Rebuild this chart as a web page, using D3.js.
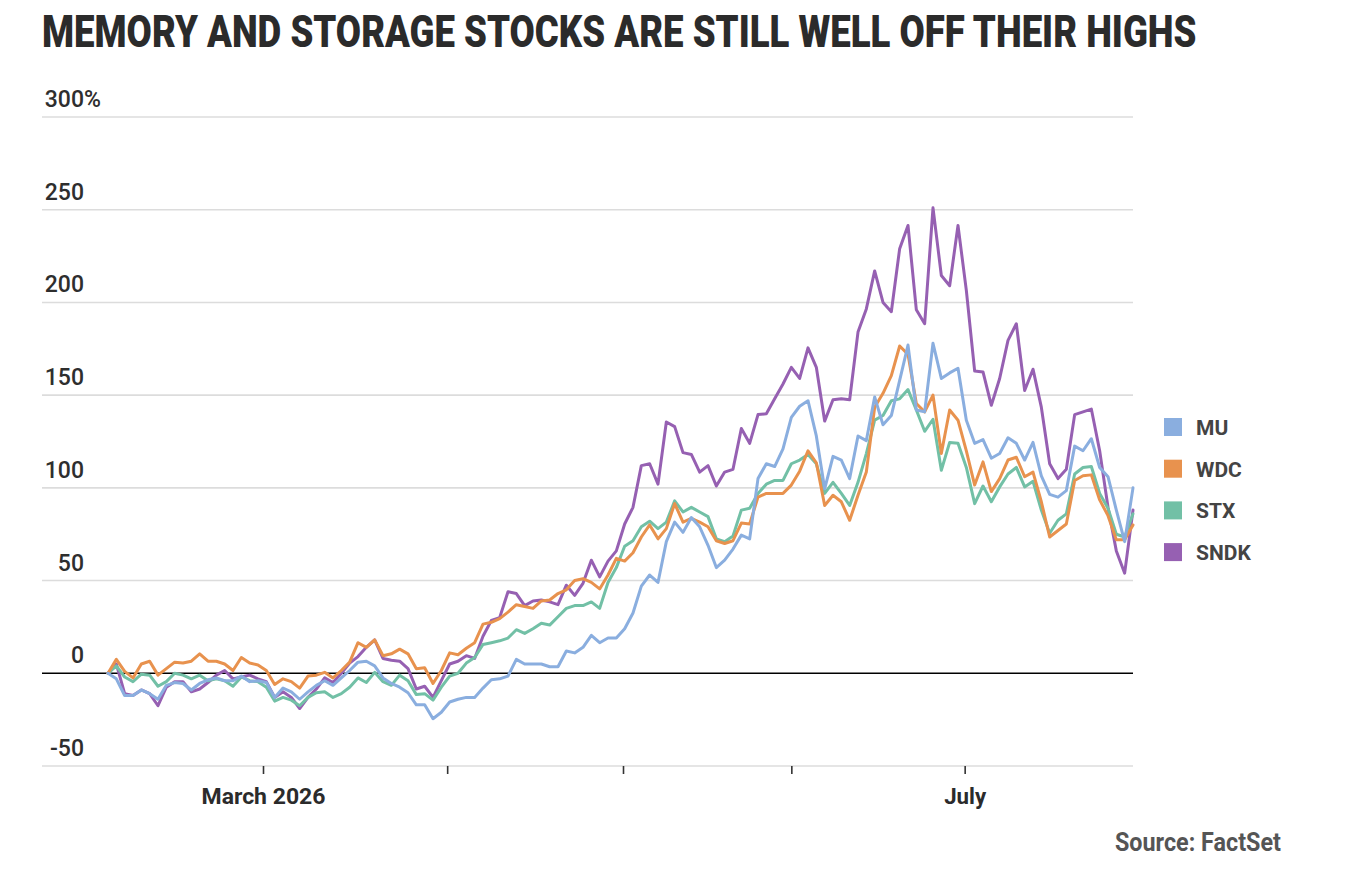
<!DOCTYPE html>
<html>
<head>
<meta charset="utf-8">
<script src="https://cdn.jsdelivr.net/npm/d3@7"></script>
<style>
  html, body { margin: 0; padding: 0; background: #fff; }
  svg { display: block; }
</style>
</head>
<body>
<div id="chart"></div>
<script>
// ---- Data (percent change since start, one value per trading day) ----
const seriesNames = ["MU", "WDC", "STX", "SNDK"];
const seriesColors = ["#8aaedf", "#e8924e", "#72c0a6", "#9660b2"];

const MU = [0,-3,-12,-12,-9,-11,-14,-6.5,-5,-5.5,-9,-5.5,-3.5,-2.5,-4,-4,-1.5,-4.5,-4,-5,
  -13,-8,-10,-14,-10,-6.5,-4,-6.5,-2.5,1.5,6,6.5,4,-2.5,-5.5,-7.5,-10.5,-17,-17,-24.5,
  -21,-15.5,-14,-13,-13,-8,-3.5,-3,-1.5,7.5,5,5,5,3.5,3.5,12,11,14,20.5,16.5,
  19,19,24,32.5,47,53,49,71,81.5,76,84,79,69,57,61,67,74.5,72.5,105,113,
  111.5,121,138,144,147,128,99.5,117,115,105,128,125.5,149,134,139,158,177,142,141,178,
  159,162,164.5,136.5,124,126,116,118.5,127,124,115,124.5,106.5,96.5,95,98.5,122.5,120,126.5,111,
  106,88,71,100];
const WDC = [0,7.5,1,-2.5,5,6.5,-1,2.5,6,5.5,6.5,10.5,6.5,6.5,5,1.5,8.5,5.5,4.5,1.5,
  -6,-3,-4.5,-8,-1.5,-1,0.5,-2.5,1.5,6,16.5,14,18,9.5,10.5,13,10.5,2.5,3,-5.5,
  1.5,11,10,13.5,16.5,26.5,27.5,29.5,33,37,36,35,39,39.5,43,45,50,51,49,45.5,
  53,62,60.5,65,73.5,80,72.5,78,91.5,81.5,83.5,81.5,79,71.5,70,71.5,81,80.5,95,97,
  97,97,101.5,109,120,113.5,90.5,96,92.5,82.5,96,108.5,143.5,151,160.5,176.5,172,145.5,141,150,
  118.5,142,136.5,120,101.5,114,98,105,115,116.5,106,108.5,92.5,73.5,77,80.5,104,106.5,107,93.5,
  85,72,72,80];
const STX = [0,4,-2,-4.5,-0.5,-1,-7,-4.5,0,-1,-3,-1,-4,-3,-4,-7,-2,-4,-4.5,-7.5,
  -15,-13,-14.5,-17.5,-13,-10.5,-10,-13,-11,-7.5,-2.5,-5,0.5,-4.5,-6.5,-1,-4,-11.5,-11,-14.5,
  -7.5,-1.5,0,5.5,8.5,15.5,16.5,17.5,19,23.5,21.5,24,27,26,30.5,35,36.5,36.5,38.5,35,
  49,57,68.5,71.5,79,82,78,81.5,93,87,89.5,87,84.5,72.5,71,74,88,89,97,102,
  104,104,113,115,118,113,97,103,97,90.5,103,118.5,136.5,139,147,148,153,142,130.5,137,
  109.5,124.5,124,111,91.5,101,92.5,100.5,107.5,111,100.5,103.5,88,75.5,82.5,86,107.5,111,111.5,97,
  89,75,73.5,86];
const SNDK = [0,5,-11,-12,-9,-11,-17.5,-7.5,-4.5,-4.5,-10,-8.5,-5,-1,1.5,-3,-2,-1,-3,-4.5,
  -13,-10,-13,-19,-13,-8.5,-2.5,-5,0,5.5,9,14,18,8,7,6.5,2.5,-8.5,-7,-13,
  -4,5,6.5,9.5,8,20,28.5,30,44,43,36.5,39,39.5,38.5,37,47.5,42,48.5,61,52,
  60.5,66,80.5,89.5,112,113,102,135.5,133,119,118,108.5,112,101,108.5,110,132,124,139.5,140,
  148,156,165,159,175.5,165,136,147.5,148,147.5,184,196.5,217,200,195,229,241.5,196,188.5,251,
  214.5,209,241.5,206.5,163,162.5,144.5,159,179.5,188.5,152.5,164,143.5,113,105,110,139.5,141,142.5,120,
  89.5,66,54,88];

const yTicks = [-50, 0, 50, 100, 150, 200, 250, 300];
// month boundaries, in trading-day units along the x axis
const monthTickIndex = [18.6, 40.7, 61.8, 82, 102.8];
const monthTickLabels = ["March 2026", "", "", "", "July"];

const titleText = "MEMORY AND STORAGE STOCKS ARE STILL WELL OFF THEIR HIGHS";
const sourceText = "Source: FactSet";

// ---- Layout ----
const W = 1356, H = 894;
const FONT = "Roboto, 'Liberation Sans', sans-serif";
const svg = d3.select("#chart").append("svg").attr("width", W).attr("height", H);

const x = d3.scaleLinear().domain([0, MU.length - 1]).range([108, 1133]);
const y = d3.scaleLinear().domain([-50, 300]).range([766, 117]);

// helper: fit a text horizontally to a given width by scaling (condensed look)
function fitText(sel, x0, y0, width, anchor) {
  const len = sel.node().getComputedTextLength();
  const s = width / len;
  let tx = x0;
  if (anchor === "end") tx = x0 - width;
  if (anchor === "middle") tx = x0 - width / 2;
  sel.attr("x", 0).attr("y", 0).attr("text-anchor", "start")
    .attr("transform", `translate(${tx},${y0}) scale(${s},1)`);
}

// Title
const title = svg.append("text")
  .style("font-family", FONT)
  .style("font-weight", 900).style("font-size", "45px")
  .style("fill", "#2b2b2b")
  .text(titleText);
fitText(title, 42, 47, 1155, "start");

// Gridlines
const grid = svg.append("g");
grid.selectAll("line").data(yTicks).join("line")
  .attr("x1", 42).attr("x2", 1133)
  .attr("y1", d => y(d)).attr("y2", d => y(d))
  .attr("stroke", d => d === 0 ? "#000" : "#dcdcdc")
  .attr("stroke-width", 1.6);

// Y labels
const ylab = svg.append("g")
  .style("font-family", FONT)
  .style("font-weight", 500).style("font-size", "23px").style("fill", "#2e2e2e");
ylab.selectAll("text").data(yTicks).join("text")
  .attr("x", 84).attr("y", d => y(d) - 10)
  .attr("text-anchor", "end")
  .text(d => d);
ylab.append("text").attr("x", 84).attr("y", y(300) - 10).text("%");

// X axis ticks
const xAxis = d3.axisBottom(x).tickValues(monthTickIndex)
  .tickFormat((d, i) => monthTickLabels[i]).tickSize(8).tickPadding(14);
const gx = svg.append("g").attr("transform", `translate(0,${y(-50)})`).call(xAxis);
gx.select(".domain").remove();
gx.selectAll(".tick line").attr("stroke", "#333").attr("stroke-width", 1.6);
gx.selectAll(".tick text")
  .style("font-family", FONT)
  .style("font-weight", 700).style("font-size", "22px").style("fill", "#2b2b2b")
  .each(function(d, i) {
    const t = d3.select(this);
    const lbl = monthTickLabels[i];
    if (lbl === "March 2026") t.attr("textLength", 124).attr("lengthAdjust", "spacingAndGlyphs");
    if (lbl === "July") t.attr("textLength", 42).attr("lengthAdjust", "spacingAndGlyphs");
  });

// Lines
const data = { MU, WDC, STX, SNDK };
const line = d3.line().x((d, i) => x(i)).y(d => y(d));
const drawOrder = ["SNDK", "STX", "WDC", "MU"];
svg.append("g").selectAll("path").data(drawOrder).join("path")
  .attr("d", k => line(data[k]))
  .attr("fill", "none")
  .attr("stroke", k => seriesColors[seriesNames.indexOf(k)])
  .attr("stroke-width", 3)
  .attr("stroke-linejoin", "round")
  .attr("stroke-linecap", "round");

// Legend
const legend = svg.append("g").attr("transform", "translate(1164,427)");
const li = legend.selectAll("g").data(seriesNames).join("g")
  .attr("transform", (d, i) => `translate(0,${i * 41.7})`);
li.append("rect").attr("x", 0).attr("y", -9).attr("width", 18).attr("height", 18)
  .attr("fill", (d, i) => seriesColors[i]);
li.append("text").attr("x", 32).attr("y", 8)
  .style("font-family", FONT)
  .style("font-weight", 700).style("font-size", "21px").style("fill", "#444")
  .text(d => d);

// Source
const src = svg.append("text")
  .style("font-family", FONT)
  .style("font-weight", 700).style("font-size", "25px").style("fill", "#555")
  .text(sourceText);
fitText(src, 1281, 851, 166, "end");
</script>
</body>
</html>
